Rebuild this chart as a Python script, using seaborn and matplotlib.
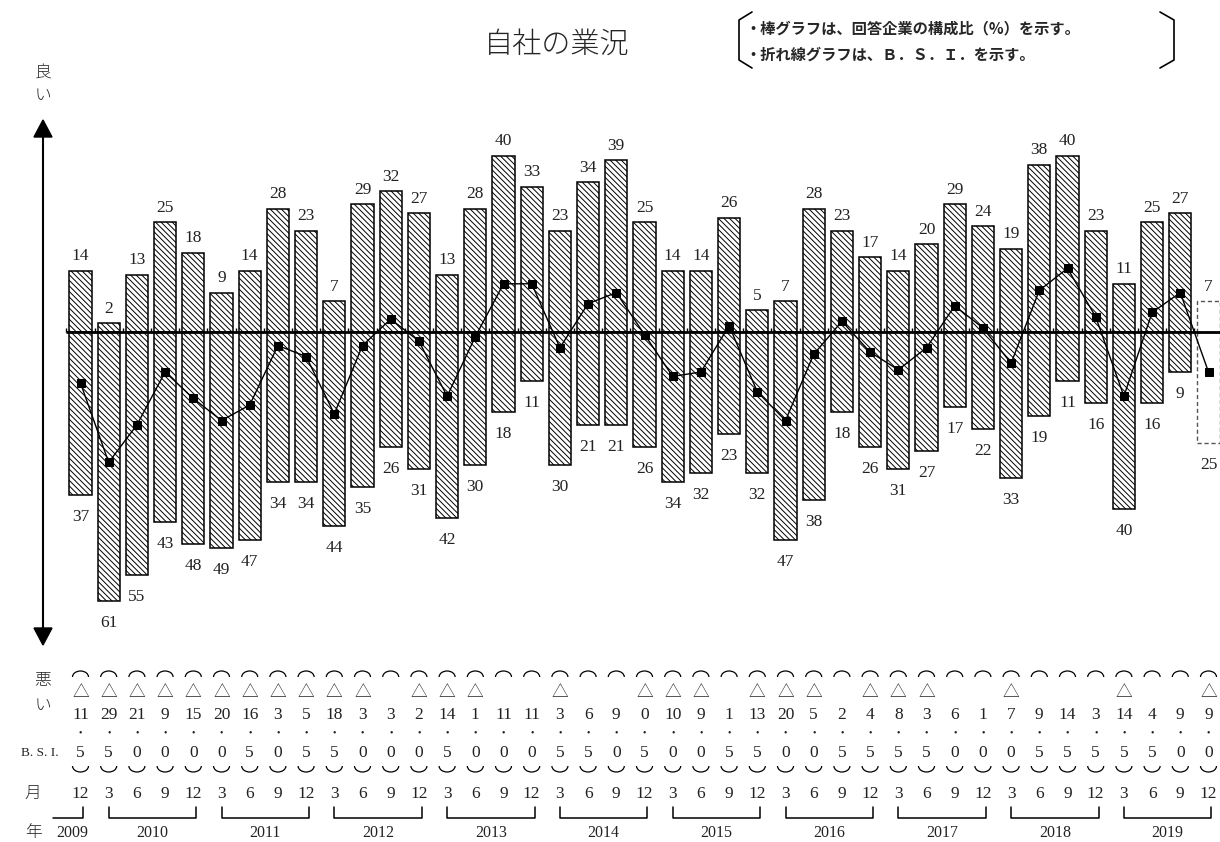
import numpy as np
import pandas as pd
import matplotlib
matplotlib.use("Agg")
import matplotlib.pyplot as plt
from matplotlib.patches import Arc, Polygon
import seaborn as sns

# ---------------- data ----------------
good = [14, 2, 13, 25, 18, 9, 14, 28, 23, 7, 29, 32, 27, 13, 28, 40, 33, 23, 34, 39,
        25, 14, 14, 26, 5, 7, 28, 23, 17, 14, 20, 29, 24, 19, 38, 40, 23, 11, 25, 27, 7]
bad = [37, 61, 55, 43, 48, 49, 47, 34, 34, 44, 35, 26, 31, 42, 30, 18, 11, 30, 21, 21,
       26, 34, 32, 23, 32, 47, 38, 18, 26, 31, 27, 17, 22, 33, 19, 11, 16, 40, 16, 9, 25]
bsi = [-11.5, -29.5, -21.0, -9.0, -15.0, -20.0, -16.5, -3.0, -5.5, -18.5, -3.0, 3.0,
       -2.0, -14.5, -1.0, 11.0, 11.0, -3.5, 6.5, 9.0, -0.5, -10.0, -9.0, 1.5, -13.5,
       -20.0, -5.0, 2.5, -4.5, -8.5, -3.5, 6.0, 1.0, -7.0, 9.5, 14.5, 3.5, -14.5, 4.5,
       9.0, -9.0]
months = [12] + [3, 6, 9, 12] * 10
years = [2009] + [y for y in range(2010, 2020) for _ in range(4)]
year_labels = list(range(2009, 2020))
title = "自社の業況"
note1 = "・棒グラフは、回答企業の構成比（%）を示す。"
note2 = "・折れ線グラフは、Ｂ．Ｓ．Ｉ．を示す。"

# ---------------- style ----------------
sns.set_theme(style="white")
CJK = ["Noto Sans CJK JP", "DejaVu Sans"]
SERIF = ["Liberation Serif", "DejaVu Serif"]
plt.rcParams["font.family"] = CJK
plt.rcParams["hatch.linewidth"] = 0.7
plt.rcParams["hatch.color"] = "black"

W, H = 1220, 842
fig = plt.figure(figsize=(W / 100, H / 100), dpi=100)
ax = fig.add_axes([0, 0, 1, 1])

X0, DX = 80.5, 28.2      # pixel of first bar, pixel per period
Y0, DY = 332.3, 4.41     # pixel of zero line, pixel per percent


def X(px):
    return (px - X0) / DX


def Y(py):
    return (Y0 - py) / DY


n = len(good)
pos = np.arange(n)
df = pd.DataFrame({"pos": pos, "good": good, "bad": [-b for b in bad], "bsi": bsi})

HATCH = "\\" * 6
sns.barplot(data=df, x="pos", y="good", native_scale=True, width=0.79, color="white",
            saturation=1, edgecolor="black", linewidth=1.1, hatch=HATCH,
            errorbar=None, ax=ax, zorder=2)
p_good = list(ax.patches)
sns.barplot(data=df, x="pos", y="bad", native_scale=True, width=0.79, color="white",
            saturation=1, edgecolor="black", linewidth=1.1, hatch=HATCH,
            errorbar=None, ax=ax, zorder=2)
p_bad = [p for p in ax.patches if p not in p_good]
for p in (p_good[-1], p_bad[-1]):
    p.set_hatch(None)
    p.set_facecolor("white")
    p.set_edgecolor("#555555")
    p.set_linestyle((0, (3, 2)))
    p.set_linewidth(1.0)

sns.lineplot(data=df, x="pos", y="bsi", color="black", linewidth=1.0, marker="s",
             markersize=6, markeredgecolor="black", ax=ax, zorder=4)

# zero line with ticks
ax.plot([X(66), X(1222)], [0, 0], color="black", lw=2.0, zorder=3, solid_capstyle="butt")
ax.vlines(np.arange(-0.5, n, 1.0), 0, 4 / DY, color="black", lw=1.0, zorder=3)

# bar value labels
for i in range(n):
    ax.text(i, good[i] + 10.5 / DY, str(good[i]), ha="center", va="baseline",
            fontsize=12.5, family=SERIF, color="#222222")
    ax.text(i, -bad[i] - 26 / DY, str(bad[i]), ha="center", va="baseline",
            fontsize=12.5, family=SERIF, color="#222222")

# vertical arrow
ax.plot([X(43), X(43)], [Y(134), Y(631)], color="black", lw=1.5)
ax.add_patch(Polygon([(X(43), Y(120)), (X(34), Y(137)), (X(52), Y(137))],
                     closed=True, color="black"))
ax.add_patch(Polygon([(X(43), Y(645)), (X(34), Y(628)), (X(52), Y(628))],
                     closed=True, color="black"))
ax.text(X(43), Y(73), "良", ha="center", va="center", fontsize=12, fontweight="light")
ax.text(X(43), Y(95), "い", ha="center", va="center", fontsize=12, fontweight="light")
ax.text(X(43), Y(680), "悪", ha="center", va="center", fontsize=12, fontweight="light")
ax.text(X(43), Y(705), "い", ha="center", va="center", fontsize=12, fontweight="light")

# B.S.I. table (vertical writing)
aw, ah = 16 / DX, 12 / DY
for i in range(n):
    v = bsi[i]
    a = abs(v)
    ip = int(a)
    dp = int(round(a * 10)) % 10
    ax.add_patch(Arc((i, Y(677)), aw, ah, theta1=0, theta2=180, color="black", lw=0.9))
    ax.add_patch(Arc((i, Y(766)), aw, ah, theta1=180, theta2=360, color="black", lw=0.9))
    if v < 0:
        ax.text(i, Y(693), "△", ha="center", va="center", fontsize=12, color="#222222",
                fontweight="light")
    ax.text(i, Y(715), str(ip), ha="center", va="center", fontsize=12.5, family=SERIF,
            color="#222222")
    ax.text(i, Y(733), "•", ha="center", va="center", fontsize=7, family=SERIF,
            color="#222222")
    ax.text(i, Y(753), str(dp), ha="center", va="center", fontsize=12.5, family=SERIF,
            color="#222222")
    ax.text(i, Y(794), str(months[i]), ha="center", va="center", fontsize=12.5,
            family=SERIF, color="#222222")

ax.text(X(40), Y(753), "B. S. I.", ha="center", va="center", fontsize=9.5, family=SERIF)
ax.text(X(33), Y(794), "月", ha="center", va="center", fontsize=12, fontweight="light")
ax.text(X(33), Y(833), "年", ha="center", va="center", fontsize=12, fontweight="light")

# year brackets
for yr in year_labels:
    idxs = [i for i in range(n) if years[i] == yr]
    a, b = idxs[0], idxs[-1] + 0.1
    ly, ty = Y(818), Y(807)
    if len(idxs) == 1:
        ax.plot([X(53), b, b], [ly, ly, ty], color="black", lw=1.1)
        cx = X(72)
    else:
        ax.plot([a, a, b, b], [ty, ly, ly, ty], color="black", lw=1.1)
        cx = (a + b) / 2
    ax.text(cx, Y(833), str(yr), ha="center", va="center", fontsize=11.5, family=SERIF,
            color="#222222")

# title and note
ax.text(X(557), Y(45), title, ha="center", va="center", fontsize=21, fontweight="light")
ax.plot([X(752), X(739), X(739), X(752)], [Y(12), Y(20), Y(60), Y(68)], color="black", lw=1.2)
ax.plot([X(1160), X(1174), X(1174), X(1160)], [Y(12), Y(20), Y(60), Y(68)], color="black", lw=1.2)
ax.text(X(745), Y(28), note1, ha="left", va="center", fontsize=11, fontweight="bold")
ax.text(X(745), Y(55), note2, ha="left", va="center", fontsize=11, fontweight="bold")

ax.set_xlim(X(0), X(W))
ax.set_ylim(Y(H), Y(0))
ax.axis("off")

fig.savefig("out.png", dpi=100)
